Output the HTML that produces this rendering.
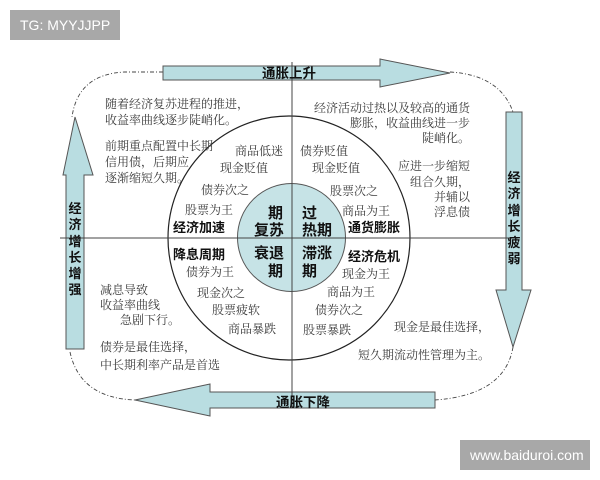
<!DOCTYPE html>
<html><head><meta charset="utf-8"><style>
html,body{margin:0;padding:0;background:#fff;}
svg{display:block;}
text{font-family:"Liberation Serif","Noto Serif CJK SC","Noto Sans CJK SC",serif;fill:#3a3a3a;font-size:12px;}
.b{font-family:"Liberation Sans","Noto Sans CJK SC",sans-serif;font-weight:bold;fill:#111;font-size:13px;}
.a{font-family:"Liberation Sans","Noto Sans CJK SC",sans-serif;font-weight:bold;fill:#111;font-size:13.5px;}
.c{font-family:"Liberation Sans","Noto Sans CJK SC",sans-serif;font-weight:bold;fill:#111;font-size:15px;}
.w{font-family:"Liberation Sans","DejaVu Sans",sans-serif;fill:#fff;font-size:14px;}
</style></head><body>
<svg width="600" height="480" viewBox="0 0 600 480">
<rect x="10" y="10" width="110" height="30" fill="#a8a8a8"/>
<text class="w" x="20" y="30">TG: MYYJJPP</text>
<rect x="460" y="440" width="130" height="30" fill="#a8a8a8"/>
<text class="w" x="470" y="460">www.baiduroi.com</text>

<g fill="none" stroke="#444" stroke-width="0.9" stroke-dasharray="4,2,1,2">
<path d="M163,72 L125,72 Q78,74 72,117"/>
<path d="M450,72 Q500,75 513,112"/>
<path d="M513,347 Q505,395 435,400"/>
<path d="M70,352 Q80,398 135,400"/>
</g>

<g fill="#b9dde1" stroke="#555" stroke-width="1">
<path d="M163,66 L380,66 L380,59 L450,73 L380,87 L380,80 L163,80 Z"/>
<path d="M435,392 L210,392 L210,384 L135,400 L210,416 L210,408 L435,408 Z"/>
<path d="M66,349 L66,175 L63,175 L75,117 L93,175 L84,175 L84,349 Z"/>
<path d="M506,112 L522,112 L522,290 L531,290 L513,347 L496,290 L506,290 Z"/>
</g>

<ellipse cx="289" cy="238" rx="121" ry="122" fill="none" stroke="#222" stroke-width="1.2"/>
<circle cx="291.5" cy="237.5" r="54" fill="#c6e3e6" stroke="#555" stroke-width="1"/>
<line x1="292" y1="62" x2="292" y2="408" stroke="#444" stroke-width="1"/>
<line x1="60" y1="238" x2="518" y2="238" stroke="#444" stroke-width="1"/>

<text class="a" x="262" y="78">通胀上升</text>
<text class="a" x="276" y="407">通胀下降</text>
<g text-anchor="middle">
<text class="b" x="75" y="213">经</text><text class="b" x="75" y="229">济</text><text class="b" x="75" y="246">增</text><text class="b" x="75" y="262">长</text><text class="b" x="75" y="278">增</text><text class="b" x="75" y="294">强</text>
<text class="b" x="514" y="182">经</text><text class="b" x="514" y="198">济</text><text class="b" x="514" y="215">增</text><text class="b" x="514" y="231">长</text><text class="b" x="514" y="247">疲</text><text class="b" x="514" y="263">弱</text>
</g>

<text class="c" x="268" y="218">期</text>
<text class="c" x="254" y="235">复苏</text>
<text class="c" x="302" y="218">过</text>
<text class="c" x="302" y="235">热期</text>
<text class="c" x="254" y="258">衰退</text>
<text class="c" x="268" y="276">期</text>
<text class="c" x="302" y="258">滞涨</text>
<text class="c" x="302" y="276">期</text>

<text x="105" y="108">随着经济复苏进程的推进，</text>
<text x="105" y="124">收益率曲线逐步陡峭化。</text>
<text x="105" y="150">前期重点配置中长期</text>
<text x="105" y="166">信用债，后期应</text>
<text x="105" y="182">逐渐缩短久期。</text>
<text x="235" y="155">商品低迷</text>
<text x="220" y="172">现金贬值</text>
<text x="201" y="194">债券次之</text>
<text x="185" y="214">股票为王</text>
<text class="b" x="173" y="232">经济加速</text>

<text x="300" y="155">债券贬值</text>
<text x="312" y="172">现金贬值</text>
<text x="330" y="195">股票次之</text>
<text x="342" y="215">商品为王</text>
<text class="b" x="348" y="232">通货膨胀</text>
<g text-anchor="end">
<text x="470" y="112">经济活动过热以及较高的通货</text>
<text x="470" y="127">膨胀，收益曲线进一步</text>
<text x="470" y="142">陡峭化。</text>
<text x="470" y="170">应进一步缩短</text>
<text x="470" y="186">组合久期，</text>
<text x="470" y="201">并辅以</text>
<text x="470" y="216">浮息债</text>
</g>

<text class="b" x="173" y="259">降息周期</text>
<text x="186" y="276">债券为王</text>
<text x="197" y="297">现金次之</text>
<text x="212" y="314">股票疲软</text>
<text x="228" y="333">商品暴跌</text>
<text x="100" y="294">减息导致</text>
<text x="100" y="309">收益率曲线</text>
<text x="120" y="324">急剧下行。</text>
<text x="100" y="351">债券是最佳选择，</text>
<text x="100" y="369">中长期利率产品是首选</text>

<text class="b" x="348" y="261">经济危机</text>
<text x="342" y="278">现金为王</text>
<text x="327" y="296">商品为王</text>
<text x="315" y="314">债券次之</text>
<text x="303" y="334">股票暴跌</text>
<text x="394" y="331">现金是最佳选择，</text>
<text x="358" y="359">短久期流动性管理为主。</text>
</svg>
</body></html>
